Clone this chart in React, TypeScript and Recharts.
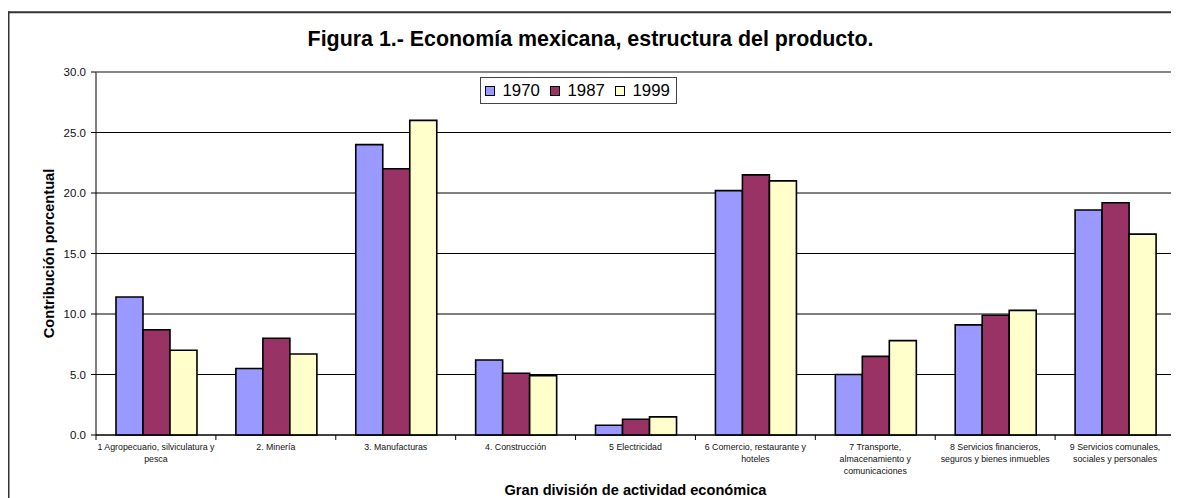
import React from 'react';
import { BarChart, Bar, XAxis, YAxis, CartesianGrid, Legend, Label } from 'recharts';

const categories = [
  '1 Agropecuario, silviculatura y\npesca',
  '2. Minería',
  '3. Manufacturas',
  '4. Construcción',
  '5 Electricidad',
  '6 Comercio, restaurante y\nhoteles',
  '7 Transporte,\nalmacenamiento y\ncomunicaciones',
  '8 Servicios financieros,\nseguros y bienes inmuebles',
  '9 Servicios comunales,\nsociales y personales',
];
const values1970 = [11.4, 5.5, 24.0, 6.2, 0.8, 20.2, 5.0, 9.1, 18.6];
const values1987 = [8.7, 8.0, 22.0, 5.1, 1.3, 21.5, 6.5, 9.9, 19.2];
const values1999 = [7.0, 6.7, 26.0, 4.9, 1.5, 21.0, 7.8, 10.3, 16.6];
const seriesNames = ['1970', '1987', '1999'];
const seriesKeys = ['s1970', 's1987', 's1999'];
const seriesColors = ['#9999FF', '#993366', '#FFFFCC'];
const yTicks = [0, 5, 10, 15, 20, 25, 30];

const titleText = 'Figura 1.- Economía mexicana, estructura del producto.';
const yTitle = 'Contribución porcentual';
const xTitle = 'Gran división de actividad económica';

const data = categories.map((c, i) => ({
  category: c,
  s1970: values1970[i],
  s1987: values1987[i],
  s1999: values1999[i],
}));

const W = 1171;
const H = 490;
const M = { top: 64, right: 4, bottom: 23, left: 0 };
const YW = 88;
const XH = 40;
const PLOT_LEFT = M.left + YW;
const PLOT_RIGHT = W - M.right;
const PLOT_TOP = M.top;
const PLOT_BOTTOM = H - M.bottom - XH;
const BAND = (PLOT_RIGHT - PLOT_LEFT) / categories.length;
const FONT = 'Arial, "Liberation Sans", Helvetica, sans-serif';

function XTick(props: any) {
  const { x, y, payload, index } = props;
  const lines = String(payload.value).split('\n');
  return (
    <g>
      <line x1={x - BAND / 2} x2={x - BAND / 2} y1={y} y2={y + 5} stroke="#000" />
      {index === categories.length - 1 && (
        <line x1={x + BAND / 2} x2={x + BAND / 2} y1={y} y2={y + 5} stroke="#000" />
      )}
      <text x={x} y={y + 15.2} textAnchor="middle" fontSize={8.8} fontFamily={FONT} fill="#111">
        {lines.map((l, i) => (
          <tspan key={i} x={x} dy={i === 0 ? 0 : 12}>
            {l}
          </tspan>
        ))}
      </text>
    </g>
  );
}

function LegendContent(props: any) {
  const payload = props.payload || [];
  return (
    <div
      style={{
        position: 'relative',
        width: 197,
        height: 27,
        boxSizing: 'border-box',
        border: '1px solid #444',
        background: '#fff',
        fontFamily: FONT,
      }}
    >
      {payload.map((p: any, i: number) => (
        <div
          key={i}
          style={{
            position: 'absolute',
            left: 4 + i * 65,
            top: 0,
            height: 25,
            display: 'flex',
            alignItems: 'center',
          }}
        >
          <div
            style={{
              width: 10,
              height: 10,
              boxSizing: 'border-box',
              border: '1px solid #000',
              background: p.color,
            }}
          />
          <span style={{ marginLeft: 7.5, fontSize: 16.8, lineHeight: '25px', color: '#000' }}>{p.value}</span>
        </div>
      ))}
    </div>
  );
}

export default function App() {
  return (
    <div style={{ position: 'relative', width: W, height: H, fontFamily: FONT }}>
      <style>{`body{overflow:hidden}`}</style>
      <BarChart width={W} height={H} data={data} margin={M} barCategoryGap="16.67%" barGap={0}>
        <CartesianGrid vertical={false} stroke="#000" />
        <XAxis
          dataKey="category"
          height={XH}
          interval={0}
          tick={<XTick />}
          tickLine={false}
          tickSize={0}
          tickMargin={0}
          axisLine={{ stroke: '#000' }}
        >
          <Label
            content={(p: any) => {
              const vb = p.viewBox;
              return (
                <text
                  x={vb.x + vb.width / 2}
                  y={vb.y + 60}
                  textAnchor="middle"
                  fontSize={14.6}
                  fontWeight="bold"
                  fontFamily={FONT}
                  fill="#000"
                >
                  {xTitle}
                </text>
              );
            }}
          />
        </XAxis>
        <YAxis
          width={YW}
          domain={[0, 30]}
          ticks={yTicks}
          interval={0}
          tickFormatter={(v: number) => v.toFixed(1)}
          tick={{ fontSize: 11.5, fill: '#111', fontFamily: FONT }}
          tickSize={5}
          tickMargin={5}
          axisLine={{ stroke: '#000' }}
          tickLine={{ stroke: '#000' }}
        >
          <Label
            content={(p: any) => {
              const vb = p.viewBox;
              const cx = vb.x + 46;
              const cy = vb.y + vb.height / 2;
              return (
                <text
                  x={cx}
                  y={cy}
                  transform={`rotate(-90 ${cx} ${cy})`}
                  textAnchor="middle"
                  fontSize={14.6}
                  fontWeight="bold"
                  fontFamily={FONT}
                  fill="#000"
                >
                  {yTitle}
                </text>
              );
            }}
          />
        </YAxis>
        <Legend
          layout="horizontal"
          verticalAlign="middle"
          align="center"
          wrapperStyle={{ left: 472, top: 69, width: 197, height: 27 }}
          content={<LegendContent />}
        />
        {seriesKeys.map((k, i) => (
          <Bar
            key={k}
            dataKey={k}
            name={seriesNames[i]}
            fill={seriesColors[i]}
            stroke="#000"
            strokeWidth={1.6}
            isAnimationActive={false}
          />
        ))}
      </BarChart>
      <svg
        width={W}
        height={H}
        style={{ position: 'absolute', left: 0, top: 0, pointerEvents: 'none', overflow: 'hidden' }}
      >
        <line x1={0.5} y1={3.2} x2={0.5} y2={H} stroke="#333" strokeWidth={2} />
        <line x1={-0.5} y1={4.2} x2={W - 1} y2={4.2} stroke="#333" strokeWidth={2} />
        <line x1={PLOT_LEFT} y1={PLOT_TOP} x2={PLOT_RIGHT} y2={PLOT_TOP} stroke="#8c8c8c" />
        <line x1={PLOT_RIGHT} y1={PLOT_TOP} x2={PLOT_RIGHT} y2={PLOT_BOTTOM} stroke="#8c8c8c" strokeWidth={1.3} />
        <text
          x={582.5}
          y={37.7}
          textAnchor="middle"
          fontSize={21.4}
          fontWeight="bold"
          fontFamily={FONT}
          fill="#000"
        >
          {titleText}
        </text>
      </svg>
    </div>
  );
}
